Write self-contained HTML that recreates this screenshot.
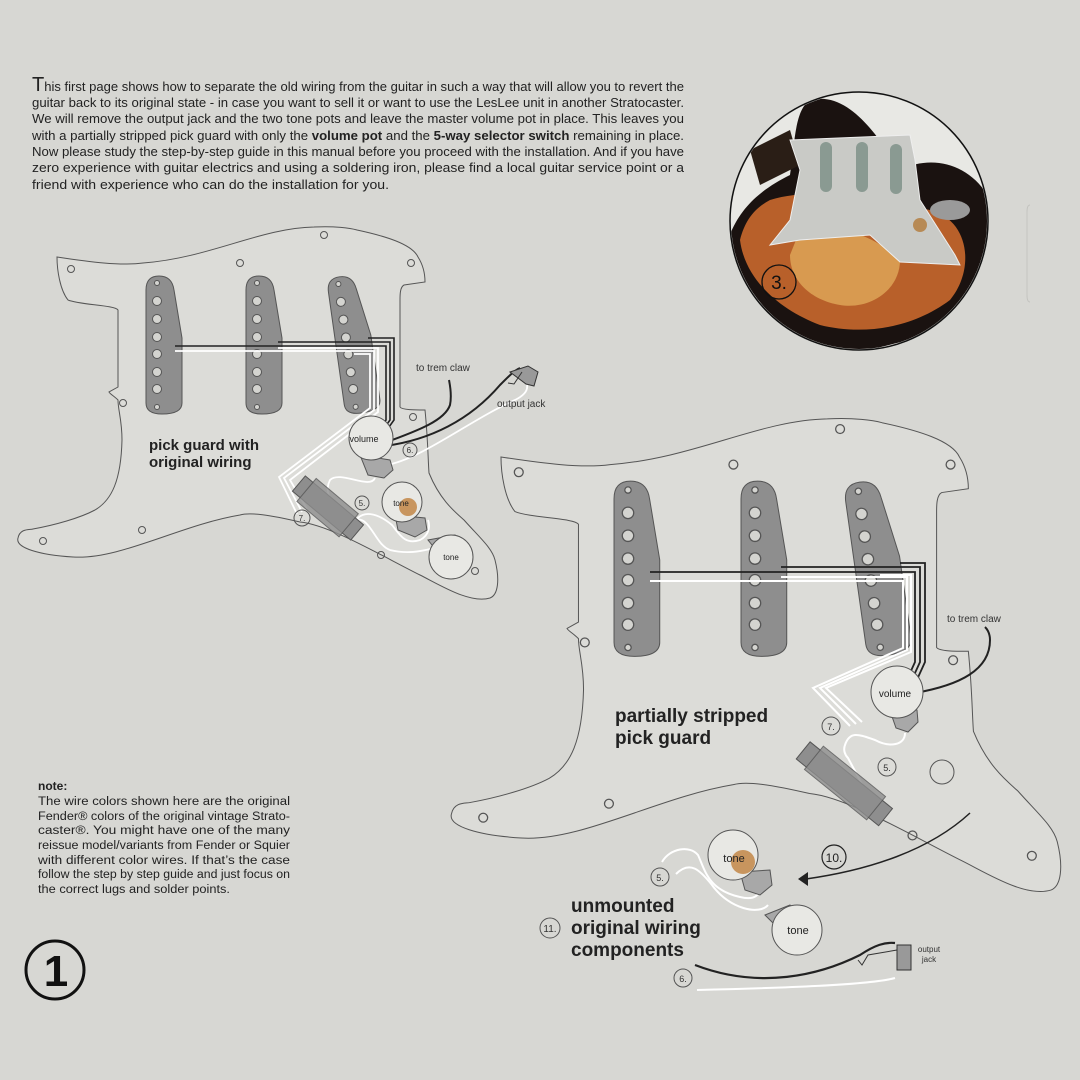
<!DOCTYPE html>
<html><head><meta charset="utf-8"><style>
html,body{margin:0;padding:0;background:#d7d7d3;}
svg{display:block;font-family:"Liberation Sans",sans-serif;}
</style></head><body>
<svg width="1080" height="1080" viewBox="0 0 1080 1080" xmlns="http://www.w3.org/2000/svg">
<defs>
<clipPath id="pc"><circle cx="859" cy="221" r="128"/></clipPath>
<g id="pg">
<path d="M57,257 C90,262 120,266 143,263 C210,258 260,228 314,227 C335,226 350,228 357,230 C385,236 412,244 418,257 C425,268 425,278 425,282 L404,285 C400,287 400,295 400,300 L400,407 C402,410 415,410 425,410 C428,440 428,460 429,473 C440,500 455,512 464,520 C480,538 492,548 495,560 C500,580 498,595 490,598 C470,604 440,585 420,575 C380,555 330,525 300,522 C270,515 250,512 240,515 C180,525 120,560 73,557 C40,555 15,548 18,538 C20,528 30,530 33,529 C55,525 80,518 95,510 C112,500 121,480 122,440 C122,420 118,410 118,400 C114,396 110,394 109,392 L118,387 L118,310 C115,305 80,305 68,300 C60,290 57,270 57,257 Z" fill="#dcdcd8" stroke="#555" stroke-width="1" vector-effect="non-scaling-stroke"/>
<g fill="none" stroke="#555" stroke-width="1" vector-effect="non-scaling-stroke">
<circle cx="71" cy="269" r="3.5"/><circle cx="240" cy="263" r="3.5"/><circle cx="324" cy="235" r="3.5"/><circle cx="411" cy="263" r="3.5"/><circle cx="123" cy="403" r="3.5"/><circle cx="413" cy="417" r="3.5"/><circle cx="142" cy="530" r="3.5"/><circle cx="43" cy="541" r="3.5"/><circle cx="381" cy="555" r="3.5"/><circle cx="475" cy="571" r="3.5"/>
</g>
<g id="pu">
<path d="M146,290 Q146,276 159,276 Q172,276 174,290 L182,338 L182,403 Q182,414 162,414 Q146,414 146,403 Z" fill="#8e8e8e" stroke="#555" stroke-width="1" vector-effect="non-scaling-stroke"/>
<g fill="#d4d4d0" stroke="#555" stroke-width="1" vector-effect="non-scaling-stroke">
<circle cx="157" cy="283" r="2.5"/><circle cx="157" cy="301" r="4.5"/><circle cx="157" cy="319" r="4.5"/><circle cx="157" cy="337" r="4.5"/><circle cx="157" cy="354" r="4.5"/><circle cx="157" cy="372" r="4.5"/><circle cx="157" cy="389" r="4.5"/><circle cx="157" cy="407" r="2.5"/>
</g>
</g>
<use href="#pu" transform="translate(100,0)"/>
<use href="#pu" transform="translate(190,0) rotate(-8 160 345)"/>
</g>
</defs>

<!-- paragraph -->
<g font-size="13" fill="#222">
<text x="32" y="91" textLength="652" lengthAdjust="spacingAndGlyphs"><tspan font-size="20">T</tspan>his first page shows how to separate the old wiring from the guitar in such a way that will allow you to revert the</text>
<text x="32" y="107" textLength="652" lengthAdjust="spacingAndGlyphs">guitar back to its original state - in case you want to sell it or want to use the LesLee unit in another Stratocaster.</text>
<text x="32" y="123" textLength="652" lengthAdjust="spacingAndGlyphs">We will remove the output jack and the two tone pots and leave the master volume pot in place. This leaves you</text>
<text x="32" y="140" textLength="652" lengthAdjust="spacingAndGlyphs">with a partially stripped pick guard with only the <tspan font-weight="bold">volume pot</tspan> and the <tspan font-weight="bold">5-way selector switch</tspan> remaining in place.</text>
<text x="32" y="156" textLength="652" lengthAdjust="spacingAndGlyphs">Now please study the step-by-step guide in this manual before you proceed with the installation. And if you have</text>
<text x="32" y="172" textLength="652" lengthAdjust="spacingAndGlyphs">zero experience with guitar electrics and using a soldering iron, please find a local guitar service point or a</text>
<text x="32" y="189" textLength="357" lengthAdjust="spacingAndGlyphs">friend with experience who can do the installation for you.</text>
</g>

<!-- photo -->
<g clip-path="url(#pc)">
<rect x="720" y="90" width="280" height="270" fill="#e8e8e4"/>
<path d="M810,100 C850,90 880,140 900,170 C940,150 990,170 1000,230 C1010,290 980,330 940,335 C890,340 860,360 820,350 C780,340 740,300 725,250 C735,210 760,190 790,175 C795,140 795,110 810,100 Z" fill="#1a1210"/>
<path d="M770,200 C820,185 880,200 930,210 C970,220 975,270 950,300 C910,330 860,335 820,325 C780,310 745,280 740,240 C745,220 755,208 770,200 Z" fill="#b8602a"/>
<path d="M800,230 C840,220 880,240 900,260 C900,290 870,310 840,305 C810,300 790,280 790,255 Z" fill="#d89a50"/>
<path d="M750,150 L790,130 L800,165 L760,185 Z" fill="#2a1e16"/>
<path d="M790,140 L910,135 L915,160 L920,200 L955,255 L960,265 L900,262 L870,235 L800,240 L770,245 L790,220 L800,170 Z" fill="#c9cac6" stroke="#eee" stroke-width="1"/>
<rect x="820" y="142" width="12" height="50" rx="6" fill="#8a9a92"/><rect x="856" y="142" width="12" height="50" rx="6" fill="#8a9a92"/><rect x="890" y="144" width="12" height="50" rx="6" fill="#8a9a92"/>
<ellipse cx="950" cy="210" rx="20" ry="10" fill="#9a9a9a"/>
<circle cx="920" cy="225" r="7" fill="#b78a55"/>
</g>
<circle cx="859" cy="221" r="129" fill="none" stroke="#111" stroke-width="1.5"/>
<circle cx="779" cy="282" r="17" fill="none" stroke="#111" stroke-width="1.3"/>
<text x="779" y="289" font-size="19" text-anchor="middle" fill="#111">3.</text>
<path d="M1030,205 Q1027,205 1027,212 L1027,295 Q1027,302 1030,302" fill="none" stroke="#c4c4c0" stroke-width="1"/>

<!-- pickguard 1 -->
<use href="#pg"/>
<!-- pickguard 2 -->
<use href="#pg" transform="translate(428.6,130.6) scale(1.27)"/>
<circle cx="942" cy="772" r="12" fill="none" stroke="#555"/>

<!-- PG1 wiring -->
<g fill="none" stroke-linejoin="miter">
<path d="M175,346 H386 V420 L376,434" stroke="#222" stroke-width="1.6"/>
<path d="M278,342 H390 V420 L380,434" stroke="#222" stroke-width="1.6"/>
<path d="M368,338 H394 V420 L384,434" stroke="#222" stroke-width="1.6"/>
<path d="M175,351 H374 V410 L284,478 L302,512" stroke="#fff" stroke-width="1.8"/>
<path d="M278,348 H378 V412 L290,480 L307,509" stroke="#fff" stroke-width="1.8"/>
<path d="M354,354 H370 V408 L279,477 L297,514" stroke="#fff" stroke-width="1.8"/>
<path d="M384,443 C420,430 445,420 450,405 C452,395 450,385 449,380" stroke="#222" stroke-width="2"/>
<path d="M385,446 C430,440 470,420 500,385 C510,375 515,370 520,368" stroke="#222" stroke-width="2"/>
<path d="M386,465 C420,460 470,420 515,400 C525,395 528,390 527,385" stroke="#fff" stroke-width="1.8"/>
<path d="M375,478 C370,490 340,470 330,480 C325,490 328,500 340,508" stroke="#fff" stroke-width="1.8"/>
<path d="M352,528 C360,505 380,515 392,525 C400,535 405,545 420,540 C430,535 430,525 428,520" stroke="#fff" stroke-width="1.8"/>
<path d="M355,520 C370,515 375,545 390,550 C410,555 425,550 435,548" stroke="#fff" stroke-width="1.8"/>
</g>
<path d="M510,372 L528,366 L538,372 L534,386 L526,384 Z" fill="#999" stroke="#333"/>
<path d="M522,372 L514,384 L508,383" fill="none" stroke="#333"/>
<!-- volume pot pg1 -->
<path d="M360,455 L390,460 L393,470 L384,478 L368,475 Z" fill="#a8a8a8" stroke="#555"/>
<circle cx="371" cy="438" r="22" fill="#e8e8e4" stroke="#555"/>
<text x="364" y="442" font-size="9" text-anchor="middle" fill="#222">volume</text>
<circle cx="410" cy="450" r="7" fill="none" stroke="#555"/><text x="410" y="453" font-size="8" text-anchor="middle" fill="#333">6.</text>
<!-- switch pg1 -->
<g transform="rotate(40 328 508)"><rect x="290" y="498" width="76" height="20" fill="#8e8e8e" stroke="#555"/><rect x="300" y="493" width="55" height="30" fill="#8e8e8e" stroke="#555" opacity="0.8"/></g>
<circle cx="302" cy="518" r="8" fill="none" stroke="#555"/><text x="302" y="521" font-size="8" text-anchor="middle" fill="#333">7.</text>
<circle cx="362" cy="503" r="7" fill="none" stroke="#555"/><text x="362" y="506" font-size="8" text-anchor="middle" fill="#333">5.</text>
<!-- tones pg1 -->
<path d="M395,515 L425,518 L427,530 L415,537 L398,530 Z" fill="#a8a8a8" stroke="#555"/>
<circle cx="402" cy="502" r="20" fill="#e8e8e4" stroke="#555"/>
<circle cx="408" cy="507" r="9" fill="#c8955e"/>
<text x="401" y="506" font-size="8" text-anchor="middle" fill="#222">tone</text>
<path d="M428,540 L455,535 L458,548 L440,555 Z" fill="#a8a8a8" stroke="#555"/>
<circle cx="451" cy="557" r="22" fill="#e8e8e4" stroke="#555"/>
<text x="451" y="560" font-size="8" text-anchor="middle" fill="#222">tone</text>
<text x="416" y="371" font-size="10" fill="#333">to trem claw</text>
<text x="497" y="407" font-size="10" fill="#333">output jack</text>
<text x="149" y="450" font-size="15" font-weight="bold" fill="#222">pick guard with</text>
<text x="149" y="467" font-size="15" font-weight="bold" fill="#222">original wiring</text>

<!-- PG2 wiring -->
<g fill="none">
<path d="M650,572 H915 V662 L905,684" stroke="#222" stroke-width="1.8"/>
<path d="M781,567 H920 V662 L910,684" stroke="#222" stroke-width="1.8"/>
<path d="M900,563 H925 V662 L915,684" stroke="#222" stroke-width="1.8"/>
<path d="M650,581 H903 V648 L813,688 L850,726" stroke="#fff" stroke-width="2"/>
<path d="M781,577 H907 V650 L820,688 L856,724" stroke="#fff" stroke-width="2"/>
<path d="M880,575 H911 V652 L826,688 L862,722" stroke="#fff" stroke-width="2"/>
<path d="M915,693 C960,685 990,670 990,640 C990,635 988,630 985,627" stroke="#222" stroke-width="2"/>
<path d="M905,733 C905,745 890,748 875,740 C860,735 850,730 845,745 C843,750 845,755 848,758 L869,797" stroke="#fff" stroke-width="2"/>
</g>
<path d="M888,705 L917,710 L918,722 L908,732 L896,728 Z" fill="#a8a8a8" stroke="#555"/>
<circle cx="897" cy="692" r="26" fill="#e8e8e4" stroke="#555"/>
<text x="895" y="697" font-size="10" text-anchor="middle" fill="#222">volume</text>
<g transform="rotate(39 845 783)"><rect x="792" y="773" width="106" height="22" fill="#8e8e8e" stroke="#555"/><rect x="805" y="768" width="80" height="30" fill="#8e8e8e" stroke="#555" opacity="0.8"/></g>
<circle cx="831" cy="726" r="9" fill="none" stroke="#555"/><text x="831" y="730" font-size="9" text-anchor="middle" fill="#333">7.</text>
<circle cx="887" cy="767" r="9" fill="none" stroke="#555"/><text x="887" y="771" font-size="9" text-anchor="middle" fill="#333">5.</text>
<text x="947" y="622" font-size="10" fill="#333">to trem claw</text>
<text x="615" y="722" font-size="19" font-weight="bold" fill="#222">partially stripped</text>
<text x="615" y="744" font-size="19" font-weight="bold" fill="#222">pick guard</text>

<!-- bottom components -->
<g fill="none">
<path d="M662,862 C670,848 690,845 698,855 C705,870 708,890 740,897 C752,900 758,897 760,890" stroke="#fff" stroke-width="2"/>
<path d="M676,874 C690,860 700,870 712,885 C730,910 760,915 768,905" stroke="#fff" stroke-width="2"/>
<path d="M970,813 C930,850 870,870 806,879" stroke="#222" stroke-width="1.5"/>
<path d="M695,965 C760,990 820,975 860,955 C875,945 885,942 895,943" stroke="#222" stroke-width="2.2"/>
<path d="M697,990 C780,988 870,985 895,978" stroke="#fff" stroke-width="2"/>
</g>
<path d="M798,879 L808,872 L808,886 Z" fill="#222"/>
<path d="M740,872 L770,870 L772,885 L760,895 L745,890 Z" fill="#a8a8a8" stroke="#555"/>
<circle cx="733" cy="855" r="25" fill="#e8e8e4" stroke="#555"/>
<circle cx="743" cy="862" r="12" fill="#c8955e"/>
<text x="734" y="862" font-size="11" text-anchor="middle" fill="#222">tone</text>
<path d="M765,915 L790,905 L795,912 L775,925 Z" fill="#a8a8a8" stroke="#555"/>
<circle cx="797" cy="930" r="25" fill="#e8e8e4" stroke="#555"/>
<text x="798" y="934" font-size="11" text-anchor="middle" fill="#222">tone</text>
<circle cx="660" cy="877" r="9" fill="none" stroke="#555"/><text x="660" y="881" font-size="9" text-anchor="middle" fill="#333">5.</text>
<circle cx="834" cy="857" r="12" fill="none" stroke="#222" stroke-width="1.2"/><text x="834" y="862" font-size="12" text-anchor="middle" fill="#222">10.</text>
<circle cx="550" cy="928" r="10" fill="none" stroke="#555"/><text x="550" y="932" font-size="10" text-anchor="middle" fill="#333">11.</text>
<circle cx="683" cy="978" r="9" fill="none" stroke="#555"/><text x="683" y="982" font-size="9" text-anchor="middle" fill="#333">6.</text>
<rect x="897" y="945" width="14" height="25" fill="#999" stroke="#333"/>
<path d="M897,950 L868,955 L862,965 L858,960" fill="none" stroke="#333"/>
<text x="929" y="952" font-size="8" text-anchor="middle" fill="#333">output</text>
<text x="929" y="962" font-size="8" text-anchor="middle" fill="#333">jack</text>
<g font-size="19" font-weight="bold" fill="#222">
<text x="571" y="912">unmounted</text>
<text x="571" y="934">original wiring</text>
<text x="571" y="956">components</text>
</g>

<!-- note -->
<g fill="#222" font-size="11.5">
<text x="38" y="790" font-weight="bold" font-size="12">note:</text>
<text x="38" y="805" textLength="252" lengthAdjust="spacingAndGlyphs">The wire colors shown here are the original</text>
<text x="38" y="820" textLength="252" lengthAdjust="spacingAndGlyphs">Fender® colors of the original vintage Strato-</text>
<text x="38" y="834" textLength="252" lengthAdjust="spacingAndGlyphs">caster®. You might have one of the many</text>
<text x="38" y="849" textLength="252" lengthAdjust="spacingAndGlyphs">reissue model/variants from Fender or Squier</text>
<text x="38" y="864" textLength="252" lengthAdjust="spacingAndGlyphs">with different color wires. If that’s the case</text>
<text x="38" y="878" textLength="252" lengthAdjust="spacingAndGlyphs">follow the step by step guide and just focus on</text>
<text x="38" y="893" textLength="192" lengthAdjust="spacingAndGlyphs">the correct lugs and solder points.</text>
</g>
<circle cx="55" cy="970" r="29" fill="none" stroke="#111" stroke-width="3"/>
<text x="56" y="986" font-size="44" font-weight="bold" text-anchor="middle" fill="#111">1</text>
</svg>
</body></html>
